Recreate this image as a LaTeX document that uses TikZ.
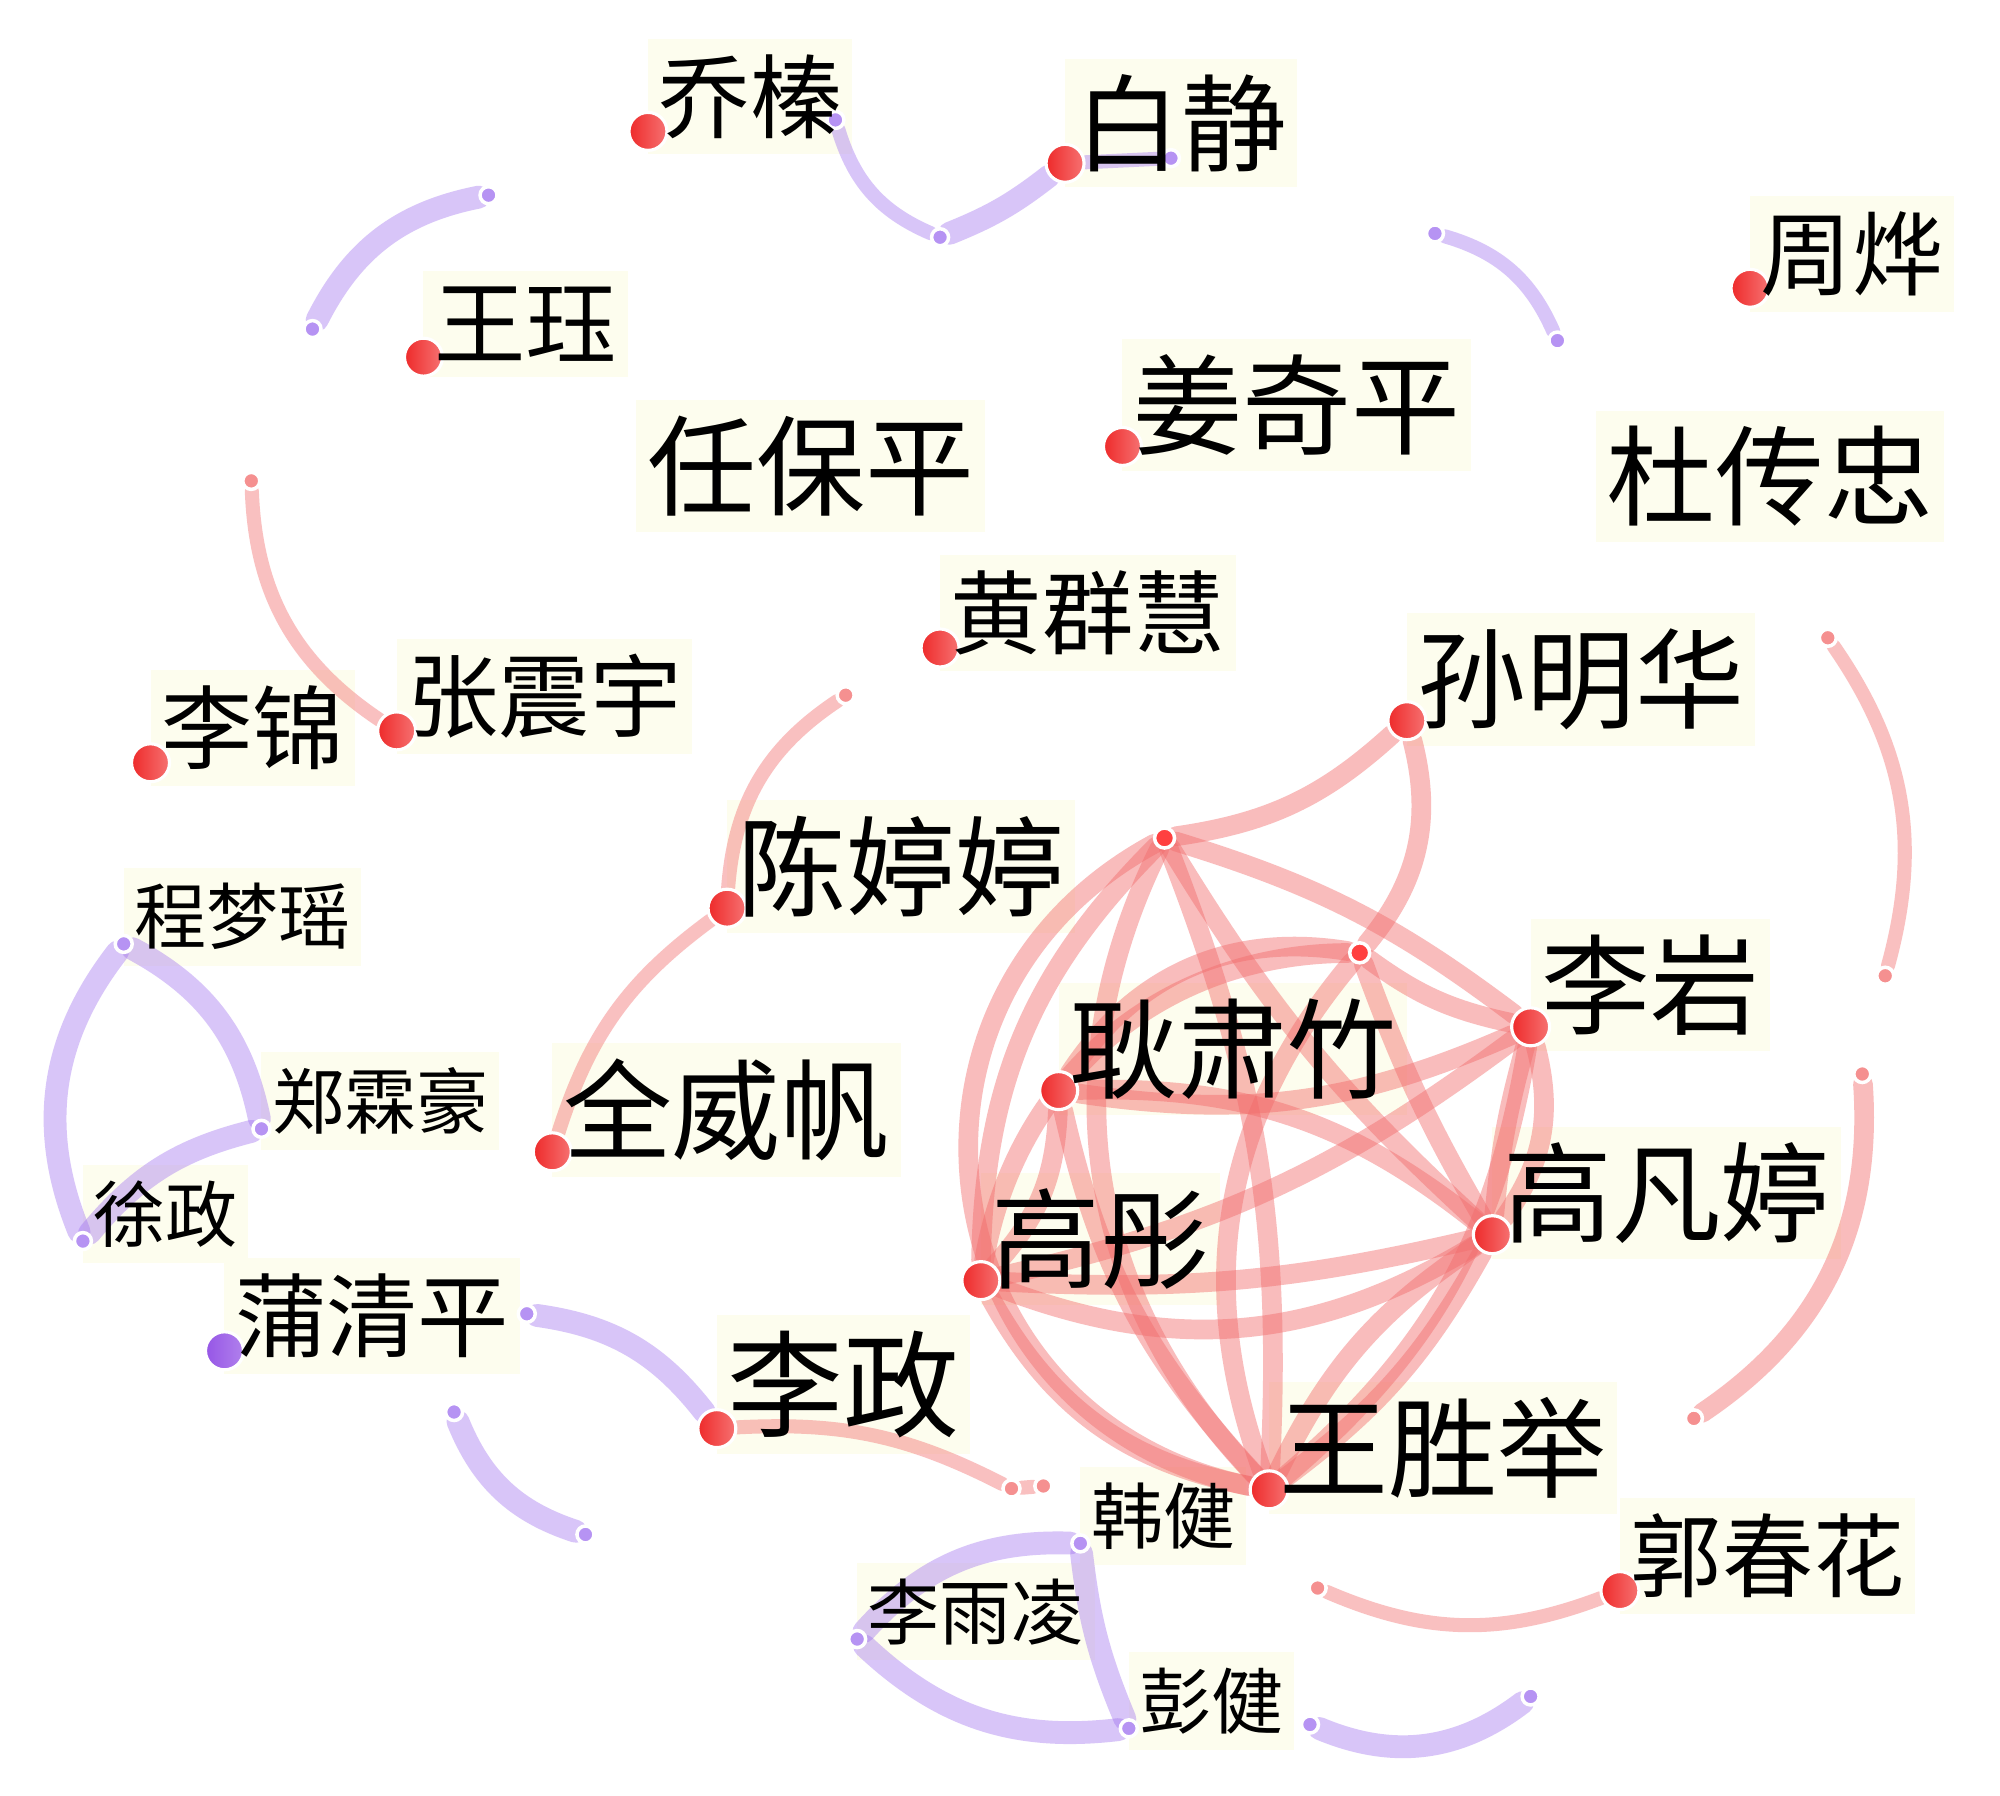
\documentclass[tikz,border=0pt]{standalone}
\usepackage{fontspec}
\newfontfamily\cjk{Noto Sans CJK SC}
\definecolor{NETred}{HTML}{F26B6B}
\definecolor{NETpurple}{HTML}{9E6FEF}
\definecolor{NETcream}{HTML}{FDFDEE}
\definecolor{NETdotA}{HTML}{EE2A2A}
\definecolor{NETdotB}{HTML}{F67272}
\definecolor{NETviolet}{HTML}{9656E6}
\pgfdeclarelayer{bg}
\pgfdeclarelayer{links}
\pgfsetlayers{bg,links,main}

\begin{document}
\begin{tikzpicture}[x=0.012755cm, y=-0.012755cm,
      rdot/.style={circle, inner sep=0pt, minimum size=0.38cm, draw=white, line width=0.9pt,
                   left color=NETdotA, right color=NETdotB},
      vdot/.style={rdot, left color=NETviolet, right color=NETviolet!75},
      endp/.style={circle, inner sep=0pt, minimum size=0.17cm, draw=white, line width=1pt, fill=#1!75!white},
      endp/.default=NETpurple,
      hub/.style={endp=red, minimum size=0.2cm},
      redlink/.style={draw=NETred, draw opacity=0.45, line width=5.6pt, line cap=round},
      thinred/.style={redlink, draw opacity=0.42, line width=4pt},
      violink/.style={draw=NETpurple, draw opacity=0.4, line width=6.5pt, line cap=round},
      thinvio/.style={violink, line width=4pt},
      lbl/.style={font=\cjk\fontsize{#1}{#1}\selectfont, anchor=base west, inner xsep=0.1cm, inner ysep=0.15cm},
   ]
   \useasboundingbox (0,0) rectangle (1568,1408);
   \begin{pgfonlayer}{bg}
      \fill[white] (0,0) rectangle (1568,1408);
   \end{pgfonlayer}

   % people (red dots)
   \node[rdot] (QZ) at (508,103) {};
   \node[rdot] (BJ) at (835,128) {};
   \node[rdot] (ZY) at (1372,226) {};
   \node[rdot] (WJ) at (332,280) {};
   \node[rdot] (JQP) at (880,350) {};
   \node[rdot] (HQH) at (737,508) {};
   \node[rdot] (SMH) at (1103,565) {};
   \node[rdot] (LJ) at (118,598) {};
   \node[rdot] (ZZY) at (311,573) {};
   \node[rdot] (CTT) at (570,712) {};
   \node[rdot] (QWF) at (433,903) {};
   \node[rdot] (GSZ) at (830,855) {};
   \node[rdot] (LY) at (1200,805) {};
   \node[rdot] (GFT) at (1170,968) {};
   \node[rdot] (GT) at (769,1004) {};
   \node[vdot] (PQP) at (176,1059) {};
   \node[rdot] (LZ) at (562,1120) {};
   \node[rdot] (WSJ) at (995,1168) {};
   \node[rdot] (GCH) at (1270,1247) {};

   % people with open ends
   \node[endp] (CMY) at (97,740) {};
   \node[endp] (ZLH) at (205,885) {};
   \node[endp] (XZ) at (65,973) {};
   \node[endp] (HJ) at (847,1210) {};
   \node[endp] (LYL) at (672,1285) {};
   \node[endp] (PJ) at (885,1355) {};

   % hubs of the red cluster
   \node[hub] (H1) at (913,657) {};
   \node[hub] (H2) at (1066,747) {};

   % loose ends
   \node[endp] (f1a) at (245,258) {};
   \node[endp] (f1b) at (383,153) {};
   \node[endp] (f2a) at (655,94) {};
   \node[endp] (f2b) at (737,186) {};
   \node[endp] (f3) at (918,124) {};
   \node[endp] (f4a) at (1125,183) {};
   \node[endp] (f4b) at (1221,267) {};
   \node[endp=NETred] (f5) at (197,377) {};
   \node[endp=NETred] (f6) at (663,545) {};
   \node[endp] (f7) at (413,1030) {};
   \node[endp] (f8a) at (356,1107) {};
   \node[endp] (f8b) at (459,1203) {};
   \node[endp=NETred] (f9a) at (793,1167) {};
   \node[endp=NETred] (f9b) at (818,1165) {};
   \node[endp=NETred] (f10a) at (1433,500) {};
   \node[endp=NETred] (f10b) at (1478,765) {};
   \node[endp=NETred] (f11a) at (1460,842) {};
   \node[endp=NETred] (f11b) at (1328,1112) {};
   \node[endp=NETred] (f12) at (1033,1245) {};
   \node[endp] (f13a) at (1027,1352) {};
   \node[endp] (f13b) at (1200,1330) {};

   \begin{pgfonlayer}{links}
      % purple links
      \draw[violink] (f1a) to[bend left=26] (f1b);
      \draw[thinvio] (f2a) to[bend right=25] (f2b);
      \draw[violink] (f2b) to[bend right=8] (BJ);
      \draw[thinvio] (BJ) -- (f3);
      \draw[thinvio] (f4a) to[bend left=25] (f4b);
      \draw[violink] (CMY) to[bend left=25] (ZLH);
      \draw[violink] (CMY) to[bend right=30] (XZ);
      \draw[violink] (ZLH) to[bend right=18] (XZ);
      \draw[violink] (f7) to[bend left=22] (LZ);
      \draw[violink] (f8a) to[bend right=25] (f8b);
      \draw[violink] (HJ) to[bend right=25] (LYL);
      \draw[violink] (HJ) to[bend right=8] (PJ);
      \draw[violink] (LYL) to[bend right=25] (PJ);
      \draw[violink] (f13a) to[bend right=30] (f13b);

      % red links, outside
      \draw[thinred] (f5) to[bend right=27] (ZZY);
      \draw[thinred] (f6) to[bend right=26] (CTT);
      \draw[thinred] (CTT) to[bend right=18] (QWF);
      \draw[thinred] (LZ) to[bend left=15] (f9a);
      \draw[thinred] (f9a) -- (f9b);
      \draw[thinred] (f10a) to[bend left=25] (f10b);
      \draw[redlink] (f11a) to[bend left=30] (f11b);
      \draw[thinred] (f12) to[bend right=22] (GCH);

      % red cluster
      \draw[redlink] (H1) to[bend right=17] (SMH);
      \draw[redlink] (SMH) to[bend left=27] (H2);
      \draw[redlink] (H1) to[bend right=70, looseness=1.3] (WSJ);
      \draw[redlink] (H1) to[bend right=35] (WSJ);
      \draw[redlink] (H1) to[bend left=12] (WSJ);
      \draw[redlink] (H1) to[bend left=10] (LY);
      \draw[redlink] (H1) to[bend right=8] (GFT);
      \draw[redlink] (H1) to[bend right=22] (GT);
      \draw[redlink] (H2) to[bend right=33] (GSZ);
      \draw[redlink] (H2) to[bend right=12] (LY);
      \draw[redlink] (H2) to[bend right=5] (GFT);
      \draw[redlink] (H2) to[bend right=30] (WSJ);
      \draw[redlink] (H2) to[bend right=40] (GT);
      \draw[redlink] (GSZ) to[bend right=16] (LY);
      \draw[redlink] (GSZ) to[bend left=20] (GFT);
      \draw[redlink] (GSZ) to[bend left=20] (GT);
      \draw[redlink] (GSZ) to[bend right=15] (WSJ);
      \draw[redlink] (LY) to[bend left=25] (GFT);
      \draw[redlink] (LY) to[bend right=5] (GFT);
      \draw[redlink] (LY) to[bend left=12] (GT);
      \draw[redlink] (LY) to[bend left=20] (WSJ);
      \draw[redlink] (GFT) to[bend left=26] (GT);
      \draw[redlink] (GFT) to[bend left=8] (GT);
      \draw[redlink] (GFT) to[bend right=15] (WSJ);
      \draw[redlink] (GFT) to[bend left=12] (WSJ);
      \draw[redlink] (GT) to[bend right=25] (WSJ);
   \end{pgfonlayer}

   % names
   \node[lbl=26] (tQZ) at (QZ) {乔榛};
   \node[lbl=30] (tBJ) at (BJ) {白静};
   \node[lbl=26] (tZY) at (ZY) {周烨};
   \node[lbl=26] (tWJ) at (WJ) {王珏};
   \node[lbl=31] (tJQP) at (JQP) {姜奇平};
   \node[lbl=31] (tRBP) at (499,398) {任保平};
   \node[lbl=31] (tDCZ) at (1251,406) {杜传忠};
   \node[lbl=26] (tHQH) at (HQH) {黄群慧};
   \node[lbl=31] (tSMH) at (SMH) {孙明华};
   \node[lbl=26] (tLJ) at (LJ) {李锦};
   \node[lbl=26] (tZZY) at (ZZY) {张震宇};
   \node[lbl=31] (tCTT) at (CTT) {陈婷婷};
   \node[lbl=20.5] (tCMY) at (CMY) {程梦瑶};
   \node[lbl=20.5] (tZLH) at (ZLH) {郑霖豪};
   \node[lbl=20.5] (tXZ) at (XZ) {徐政};
   \node[lbl=31] (tQWF) at (QWF) {全威帆};
   \node[lbl=31] (tGSZ) at (GSZ) {耿肃竹};
   \node[lbl=31] (tLY) at (LY) {李岩};
   \node[lbl=31] (tGFT) at (GFT) {高凡婷};
   \node[lbl=31] (tGT) at (GT) {高彤};
   \node[lbl=26] (tPQP) at (PQP) {蒲清平};
   \node[lbl=33] (tLZ) at (LZ) {李政};
   \node[lbl=31] (tWSJ) at (WSJ) {王胜举};
   \node[lbl=20.5] (tHJ) at (HJ) {韩健};
   \node[lbl=26] (tGCH) at (GCH) {郭春花};
   \node[lbl=20.5] (tLYL) at (LYL) {李雨凌};
   \node[lbl=20.5] (tPJ) at (PJ) {彭健};

   % cream boxes behind the names
   \begin{pgfonlayer}{bg}
      \foreach \t in {tQZ,tBJ,tZY,tWJ,tJQP,tRBP,tDCZ,tHQH,tSMH,tLJ,tZZY,tCTT,tCMY,tZLH,
                      tXZ,tQWF,tGSZ,tLY,tGFT,tGT,tPQP,tLZ,tWSJ,tHJ,tGCH,tLYL,tPJ}
         \fill[NETcream] (\t.south west) rectangle (\t.north east);
   \end{pgfonlayer}
\end{tikzpicture}
\end{document}
